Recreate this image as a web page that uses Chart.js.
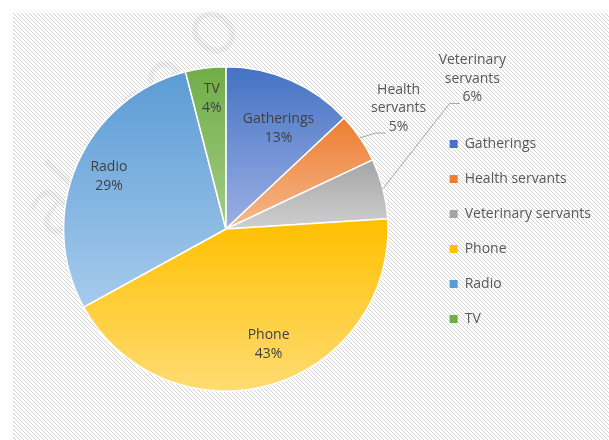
<!DOCTYPE html>
<html>
<head>
<meta charset="utf-8">
<script src="https://cdn.jsdelivr.net/npm/chart.js@4"></script>
<style>
  html, body { margin: 0; padding: 0; background: #fff; }
</style>
</head>
<body>
<canvas id="pie" width="609" height="440"></canvas>
<script>
// data
var labels = ['Gatherings', 'Health servants', 'Veterinary servants', 'Phone', 'Radio', 'TV'];
var shares = [13, 5, 6, 43, 29, 4];
var baseColors = ['#4472c4', '#ed7d31', '#a5a5a5', '#ffc000', '#5b9bd5', '#70ad47'];
var lightColors = ['#9cb0e4', '#f6b98d', '#cfcfcf', '#ffdc73', '#a6cbec', '#a3cc87'];

// where each data label sits: fraction of radius, and angle offset (deg) from slice middle
var labelPlace = [
  { r: 0.70, da: 4.2, lines: ['Gatherings'] },
  { r: 1.30, da: -0.8, lines: ['Health', 'servants'], outside: true },
  { r: 1.78, da: -17, lines: ['Veterinary', 'servants'], outside: true },
  { r: 0.76, da: -4.1, lines: ['Phone'] },
  { r: 0.79, da: 0.8, lines: ['Radio'] },
  { r: 0.81, da: 1.1, lines: ['TV'] }
];

var FONT = '"Open Sans", "DejaVu Sans", sans-serif';
var total = shares.reduce(function (a, b) { return a + b; }, 0);

function sliceFill(c) {
  var chart = c.chart, a = chart.chartArea, i = c.dataIndex;
  if (!a) return baseColors[i];
  var before = 0;
  for (var k = 0; k < i; k++) before += shares[k];
  var s = -Math.PI / 2 + 2 * Math.PI * before / total;
  var e = s + 2 * Math.PI * shares[i] / total;
  var cx = (a.left + a.right) / 2, cy = (a.top + a.bottom) / 2;
  var r = Math.min(a.width, a.height) / 2;
  var ys = [cy, cy + r * Math.sin(s), cy + r * Math.sin(e)];
  [-Math.PI / 2, Math.PI / 2, 3 * Math.PI / 2].forEach(function (t) {
    if (t >= s && t <= e) ys.push(cy + r * Math.sin(t));
  });
  var y0 = Math.min.apply(null, ys), y1 = Math.max.apply(null, ys);
  var g = chart.ctx.createLinearGradient(0, y0, 0, y1 + 0.01);
  g.addColorStop(0, baseColors[i]);
  g.addColorStop(1, lightColors[i]);
  return g;
}

// hatched panel + faint watermark behind the pie
var backdrop = {
  id: 'backdrop',
  beforeDraw: function (chart) {
    var ctx = chart.ctx;
    var tile = document.createElement('canvas');
    tile.width = 4; tile.height = 4;
    var tc = tile.getContext('2d');
    tc.fillStyle = '#ffffff';
    tc.fillRect(0, 0, 4, 4);
    tc.fillStyle = '#d2d2d2';
    for (var i = 0; i < 4; i++) tc.fillRect(i, i, 1, 1);
    ctx.save();
    ctx.fillStyle = '#ffffff';
    ctx.fillRect(0, 0, chart.width, chart.height);
    ctx.fillStyle = ctx.createPattern(tile, 'repeat');
    ctx.fillRect(13, 13, chart.width - 13, chart.height - 13);

    ctx.translate(133, 120);
    ctx.rotate(-48 * Math.PI / 180);
    ctx.font = '80px ' + FONT;
    ctx.fillStyle = 'rgba(0,0,0,0.05)';
    ctx.textAlign = 'center';
    ctx.textBaseline = 'middle';
    ctx.fillText('al use o', 0, 0);
    ctx.restore();
  }
};

var dataLabels = {
  id: 'dataLabels',
  afterDatasetsDraw: function (chart) {
    var ctx = chart.ctx;
    var arcs = chart.getDatasetMeta(0).data;
    var lh = 18.5;
    ctx.save();
    ctx.font = '14px ' + FONT;
    ctx.textAlign = 'center';
    ctx.textBaseline = 'middle';
    arcs.forEach(function (arc, i) {
      var p = labelPlace[i];
      var mid = (arc.startAngle + arc.endAngle) / 2;
      var ang = mid + p.da * Math.PI / 180;
      var R = arc.outerRadius;
      var tx = arc.x + Math.cos(ang) * R * p.r;
      var ty = arc.y + Math.sin(ang) * R * p.r;
      var lines = p.lines.concat([shares[i] + '%']);
      var top = ty - (lines.length - 1) * lh / 2;
      ctx.fillStyle = p.outside ? '#595959' : '#404040';
      lines.forEach(function (t, j) { ctx.fillText(t, tx, top + j * lh); });
      if (p.outside) {
        var lastY = top + (lines.length - 1) * lh;
        var w = ctx.measureText(lines[lines.length - 1]).width;
        var ex = tx - w / 2 - 3, ey = lastY + 6.5;
        var sx = arc.x + Math.cos(mid) * R, sy = arc.y + Math.sin(mid) * R;
        ctx.strokeStyle = '#a6a6a6';
        ctx.lineWidth = 1;
        ctx.beginPath();
        ctx.moveTo(sx, sy);
        ctx.lineTo(ex - 10, ey);
        ctx.lineTo(ex, ey);
        ctx.stroke();
      }
    });
    ctx.restore();
  }
};

new Chart(document.getElementById('pie'), {
  type: 'pie',
  data: {
    labels: labels,
    datasets: [{
      data: shares,
      backgroundColor: sliceFill,
      borderColor: '#ffffff',
      borderWidth: 1.5
    }]
  },
  options: {
    responsive: false,
    animation: false,
    events: [],
    layout: { padding: { left: 23, right: 8, top: 66, bottom: 48 } },
    plugins: {
      tooltip: { enabled: false },
      legend: {
        position: 'right',
        // empty title only nudges the items down a little
        title: { display: true, text: '', padding: 0, font: { size: 4 } },
        labels: {
          boxWidth: 8,
          boxHeight: 8,
          padding: 21,
          color: '#595959',
          font: { family: FONT, size: 14 },
          generateLabels: function () {
            return labels.map(function (t, i) {
              return { text: t, fillStyle: baseColors[i], strokeStyle: baseColors[i], lineWidth: 0, hidden: false, index: i, fontColor: '#595959' };
            });
          }
        }
      }
    }
  },
  plugins: [backdrop, dataLabels]
});
</script>
</body>
</html>
